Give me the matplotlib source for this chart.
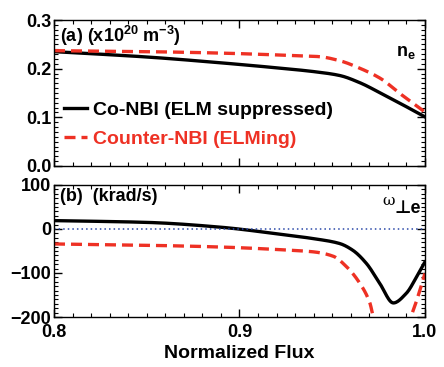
import matplotlib
matplotlib.use("Agg")
import matplotlib.pyplot as plt
import numpy as np
from matplotlib.ticker import MultipleLocator

plt.rcParams['font.family'] = ['Liberation Sans', 'DejaVu Sans']
plt.rcParams['font.weight'] = 'bold'
plt.rcParams['mathtext.default'] = 'regular'

# (a) density, x10^20 m^-3
flux_ne = [0.80, 0.85, 0.89, 0.922, 0.940, 0.954, 0.965, 0.976, 0.9865, 1.00]
ne_co = [0.235, 0.224, 0.212, 0.201, 0.194, 0.186, 0.171, 0.150, 0.129, 0.101]
flux_ne_ctr = [0.80, 0.85, 0.89, 0.922, 0.943, 0.954, 0.965, 0.976, 0.9865, 1.00]
ne_ctr = [0.237, 0.235, 0.232, 0.228, 0.2247, 0.2164, 0.2007, 0.180, 0.149, 0.111]

# (b) omega_perp_e, krad/s
flux_w_co = [0.80, 0.85, 0.89, 0.922, 0.940, 0.954, 0.961, 0.9686, 0.9757, 0.983, 0.990, 0.9955, 1.00]
w_co = [19, 15, 4, -12, -22, -33, -48, -79, -124, -168, -146, -109, -75]
flux_w_ctr = [0.80, 0.85, 0.89, 0.922, 0.940, 0.9506, 0.9578, 0.965, 0.9704, 0.9722, 0.983, 0.9938, 0.9973, 1.00]
w_ctr = [-34, -37, -41, -47, -52, -62, -86, -124, -169, -200, -280, -184, -139, -101]

fig = plt.figure(figsize=(4.44, 3.67), dpi=100)
ax1 = fig.add_axes([0.1216, 0.5477, 0.8354, 0.3978])
ax2 = fig.add_axes([0.1216, 0.1362, 0.8354, 0.3598])

red = '#ee3124'
fs = 13


def cs(x, y):
    # monotone cubic (Fritsch-Carlson) interpolation for a smooth curve
    x = np.asarray(x, float); y = np.asarray(y, float)
    xs = np.linspace(x[0], x[-1], 400)
    h = np.diff(x); d = np.diff(y) / h
    m = np.zeros_like(y)
    m[0] = d[0]; m[-1] = d[-1]
    for i in range(1, len(y) - 1):
        if d[i-1] * d[i] <= 0:
            m[i] = 0
        else:
            w1 = 2*h[i] + h[i-1]; w2 = h[i] + 2*h[i-1]
            m[i] = (w1 + w2) / (w1 / d[i-1] + w2 / d[i])
    idx = np.clip(np.searchsorted(x, xs) - 1, 0, len(x) - 2)
    t = (xs - x[idx]) / h[idx]
    h00 = 2*t**3 - 3*t**2 + 1; h10 = t**3 - 2*t**2 + t
    h01 = -2*t**3 + 3*t**2; h11 = t**3 - t**2
    ys = h00*y[idx] + h10*h[idx]*m[idx] + h01*y[idx+1] + h11*h[idx]*m[idx+1]
    return xs, ys

dash = (0, (3.3, 1.8))

x, y = cs(flux_ne, ne_co)
ax1.plot(x, y, color='black', lw=2.4, label='Co-NBI (ELM suppressed)')
x, y = cs(flux_ne_ctr, ne_ctr)
ax1.plot(x, y, color=red, lw=2.4, ls=dash, label='Counter-NBI (ELMing)')

x, y = cs(flux_w_co, w_co)
ax2.plot(x, y, color='black', lw=2.4)
x, y = cs(flux_w_ctr, w_ctr)
ax2.plot(x, y, color=red, lw=2.4, ls=dash)
ax2.axhline(0, color='#2a48a8', lw=1.1, ls=(0, (1, 2)))

for ax in (ax1, ax2):
    ax.set_xlim(0.8, 1.0)
    ax.xaxis.set_major_locator(MultipleLocator(0.1))
    ax.xaxis.set_minor_locator(MultipleLocator(0.01))
    ax.tick_params(which='both', direction='in', top=True, right=True, labelsize=fs)
    ax.tick_params(which='major', length=6, width=1)
    ax.tick_params(which='minor', length=3, width=0.8)
    ax.tick_params(axis='y', pad=2)
    for s in ax.spines.values():
        s.set_linewidth(1.0)

ax1.set_ylim(0, 0.3)
ax1.yaxis.set_major_locator(MultipleLocator(0.1))
ax1.yaxis.set_minor_locator(MultipleLocator(0.01))
ax1.set_yticks([0.0, 0.1, 0.2, 0.3])
ax1.set_yticklabels(['0.0', '0.1', '0.2', '0.3'])
ax1.tick_params(axis='x', labelbottom=False)

ax2.set_ylim(-200, 100)
ax2.yaxis.set_major_locator(MultipleLocator(100))
ax2.yaxis.set_minor_locator(MultipleLocator(10))
ax2.set_xticks([0.8, 0.9, 1.0])
ax2.set_xticklabels(['0.8', '0.9', '1.0'])
ax2.tick_params(axis='x', pad=5)
ax2.set_xlabel('Normalized Flux', fontsize=14, labelpad=3, fontweight='bold')

leg = ax1.legend(loc='lower left', bbox_to_anchor=(0.0, 0.06), frameon=False,
                 prop={'size': 14, 'weight': 'bold'}, handlelength=1.2,
                 handletextpad=0.3, borderaxespad=0.2, labelspacing=0.55,
                 borderpad=0.3)
for t, c in zip(leg.get_texts(), ['black', red]):
    t.set_color(c)

ax1.text(0.015, 0.975, r'(a) (x10$^{20}$ m$^{-3}$)', transform=ax1.transAxes,
         fontsize=fs, va='top', ha='left', fontweight='bold')
ax1.text(0.975, 0.72, r'n$_{e}$', transform=ax1.transAxes,
         fontsize=fs, va='bottom', ha='right', fontweight='bold')
ax2.text(0.015, 0.975, '(b)  (krad/s)', transform=ax2.transAxes,
         fontsize=fs, va='top', ha='left', fontweight='bold')
ax2.text(0.918, 0.85, 'ω', transform=ax2.transAxes, fontsize=11,
         va='baseline', ha='right', fontweight='normal',
         family=['DejaVu Serif', 'DejaVu Sans'])
ax2.text(0.99, 0.79, '⊥e', transform=ax2.transAxes, fontsize=fs,
         va='baseline', ha='right', fontweight='bold',
         family=['Liberation Sans', 'DejaVu Sans'])

fig.savefig('out.png', dpi=100)
